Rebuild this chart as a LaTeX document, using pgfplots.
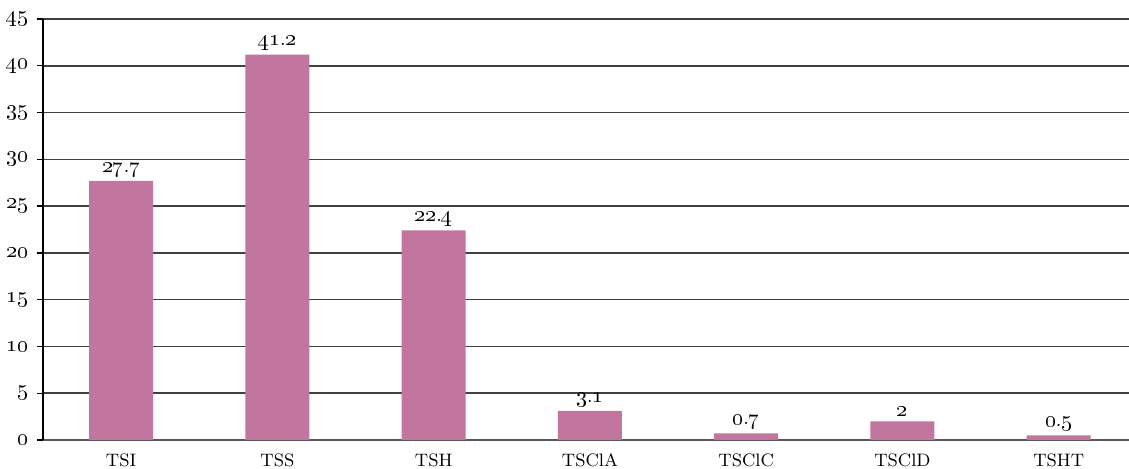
\documentclass[border=0pt]{standalone}
\usepackage{pgfplots}
\pgfplotsset{compat=1.18}
\definecolor{barpink}{RGB}{194,117,158}
\newcommand{\osn}[1]{{\fontsize{10.5}{12}\selectfont\oldstylenums{#1}}}
\begin{document}
\begin{tikzpicture}
\begin{axis}[
  name=ax,
  scale only axis,
  width=543pt, height=210.5pt,
  xmin=-0.5, xmax=6.45,
  ymin=0, ymax=45,
  ytick={0,5,...,45},
  yticklabels={\osn{0},\osn{5},\osn{10},\osn{15},\osn{20},\osn{25},\osn{30},\osn{35},\osn{40},\osn{45}},
  xtick={0,...,6},
  xticklabels={TSI,TSS,TSH,TSClA,TSClC,TSClD,TSHT},
  extra x ticks={-0.5,0.5,1.5,2.5,3.5,4.5,5.5},
  extra x tick labels={},
  extra x tick style={major tick length=3pt, tick style={black!70, line width=0.7pt}},
  major x tick style={draw=none},
  axis x line*=bottom,
  axis y line*=left,
  axis line style={-, line width=0.8pt},
  x axis line style={black!65},
  y axis line style={black},
  ytick style={black, line width=0.7pt},
  tick align=outside,
  major tick length=3pt,
  ymajorgrids,
  grid style={black!75, line width=0.8pt},
  xticklabel style={font=\fontsize{9}{10}\selectfont, yshift=-0.5pt},
  yticklabel style={xshift=-1pt},
  ybar, bar width=32pt,
  point meta=explicit symbolic,
  nodes near coords,
  every node near coord/.append style={inner sep=2pt},
  clip=false,
]
\addplot[fill=barpink, draw=none] coordinates {
  (0,27.7) [{\osn{27}.\osn{7}}]
  (1,41.2) [{\osn{41}.\osn{2}}]
  (2,22.4) [{\osn{22}.\osn{4}}]
  (3,3.1)  [{\osn{3}.\osn{1}}]
  (4,0.7)  [{\osn{0}.\osn{7}}]
  (5,2)    [{\osn{2}}]
  (6,0.5)  [{\osn{0}.\osn{5}}]
};
\end{axis}
\pgfresetboundingbox
\path[use as bounding box] ([shift={(-21.5pt,-14.5pt)}]ax.south west) rectangle ([shift={(0pt,9.5pt)}]ax.north east);
\end{tikzpicture}
\end{document}
